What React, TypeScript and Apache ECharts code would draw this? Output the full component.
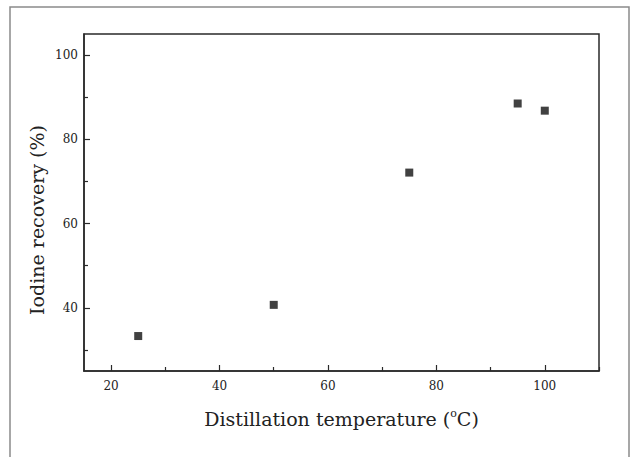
import React, { useEffect, useRef } from "react";
import * as echarts from "echarts";

const temperatures = [25, 50, 75, 95, 100];
const recovery = [33.3, 40.7, 72.1, 88.5, 86.8];
const xMajorTicks = [20, 40, 60, 80, 100];
const xMinorTicks = [30, 50, 70, 90, 110];
const yMajorTicks = [40, 60, 80, 100];
const yMinorTicks = [30, 50, 70, 90];
const yTitle = "Iodine recovery (%)";

const FONT = "DejaVu Serif";

export default function App() {
  const ref = useRef<HTMLDivElement>(null);
  useEffect(() => {
    if (!ref.current) return;
    const chart = echarts.init(ref.current, undefined, { renderer: "svg" });
    const axisCommon = {
      type: "value" as const,
      splitLine: { show: false },
    };
    chart.setOption({
      animation: false,
      backgroundColor: "#fff",
      grid: {
        left: 84,
        top: 34,
        right: 31,
        bottom: 86,
        show: true,
        borderColor: "#2a2a2a",
        borderWidth: 1.5,
        backgroundColor: "transparent",
      },
      xAxis: [
        {
          ...axisCommon,
          min: 15,
          max: 110,
          name: "Distillation temperature ({sup|o}C)",
          nameLocation: "middle",
          nameGap: 37,
          nameTextStyle: {
            fontFamily: FONT,
            fontSize: 19,
            color: "#222",
            rich: {
              sup: { fontFamily: FONT, fontSize: 11, color: "#222", padding: [0, 0, 10, 0] },
            },
          },
          axisLine: { show: true, lineStyle: { color: "#2a2a2a", width: 1.5 } },
          axisTick: {
            show: true,
            inside: true,
            length: 6,
            customValues: xMajorTicks,
            lineStyle: { color: "#2a2a2a", width: 1.2 },
          },
          axisLabel: {
            customValues: xMajorTicks,
            margin: 9,
            fontFamily: FONT,
            fontSize: 12,
            color: "#222",
          },
        },
        {
          ...axisCommon,
          min: 15,
          max: 110,
          position: "bottom",
          axisLine: { show: false },
          axisLabel: { show: false },
          axisTick: {
            show: true,
            inside: true,
            length: 4,
            customValues: xMinorTicks,
            lineStyle: { color: "#2a2a2a", width: 1.2 },
          },
        },
      ],
      yAxis: [
        {
          ...axisCommon,
          min: 25,
          max: 105,
          axisLine: { show: true, lineStyle: { color: "#2a2a2a", width: 1.5 } },
          axisTick: {
            show: true,
            inside: true,
            length: 6,
            customValues: yMajorTicks,
            lineStyle: { color: "#2a2a2a", width: 1.2 },
          },
          axisLabel: {
            customValues: yMajorTicks,
            margin: 6,
            fontFamily: FONT,
            fontSize: 12,
            color: "#222",
          },
        },
        {
          ...axisCommon,
          min: 25,
          max: 105,
          position: "left",
          axisLine: { show: false },
          axisLabel: { show: false },
          axisTick: {
            show: true,
            inside: true,
            length: 4,
            customValues: yMinorTicks,
            lineStyle: { color: "#2a2a2a", width: 1.2 },
          },
        },
      ],
      series: [
        {
          type: "scatter",
          xAxisIndex: 0,
          yAxisIndex: 0,
          symbol: "rect",
          symbolSize: 8,
          itemStyle: { color: "#111" },
          data: temperatures.map((t, i) => [t, recovery[i]]),
        },
      ],
      graphic: [
        {
          type: "polyline",
          shape: { points: [[10, 457], [10, 7], [629, 7], [629, 457]] },
          style: { stroke: "#8a8a8a", lineWidth: 1.5, fill: null },
          silent: true,
        },
        {
          type: "text",
          x: 37,
          y: 220,
          rotation: Math.PI / 2,
          style: {
            text: yTitle,
            fontFamily: FONT,
            fontSize: 19,
            fill: "#222",
            align: "center",
            verticalAlign: "middle",
          },
          silent: true,
        },
      ],
    });
    return () => chart.dispose();
  }, []);
  return <div ref={ref} style={{ width: 630, height: 457, position: "absolute", left: 0, top: 0 }} />;
}
